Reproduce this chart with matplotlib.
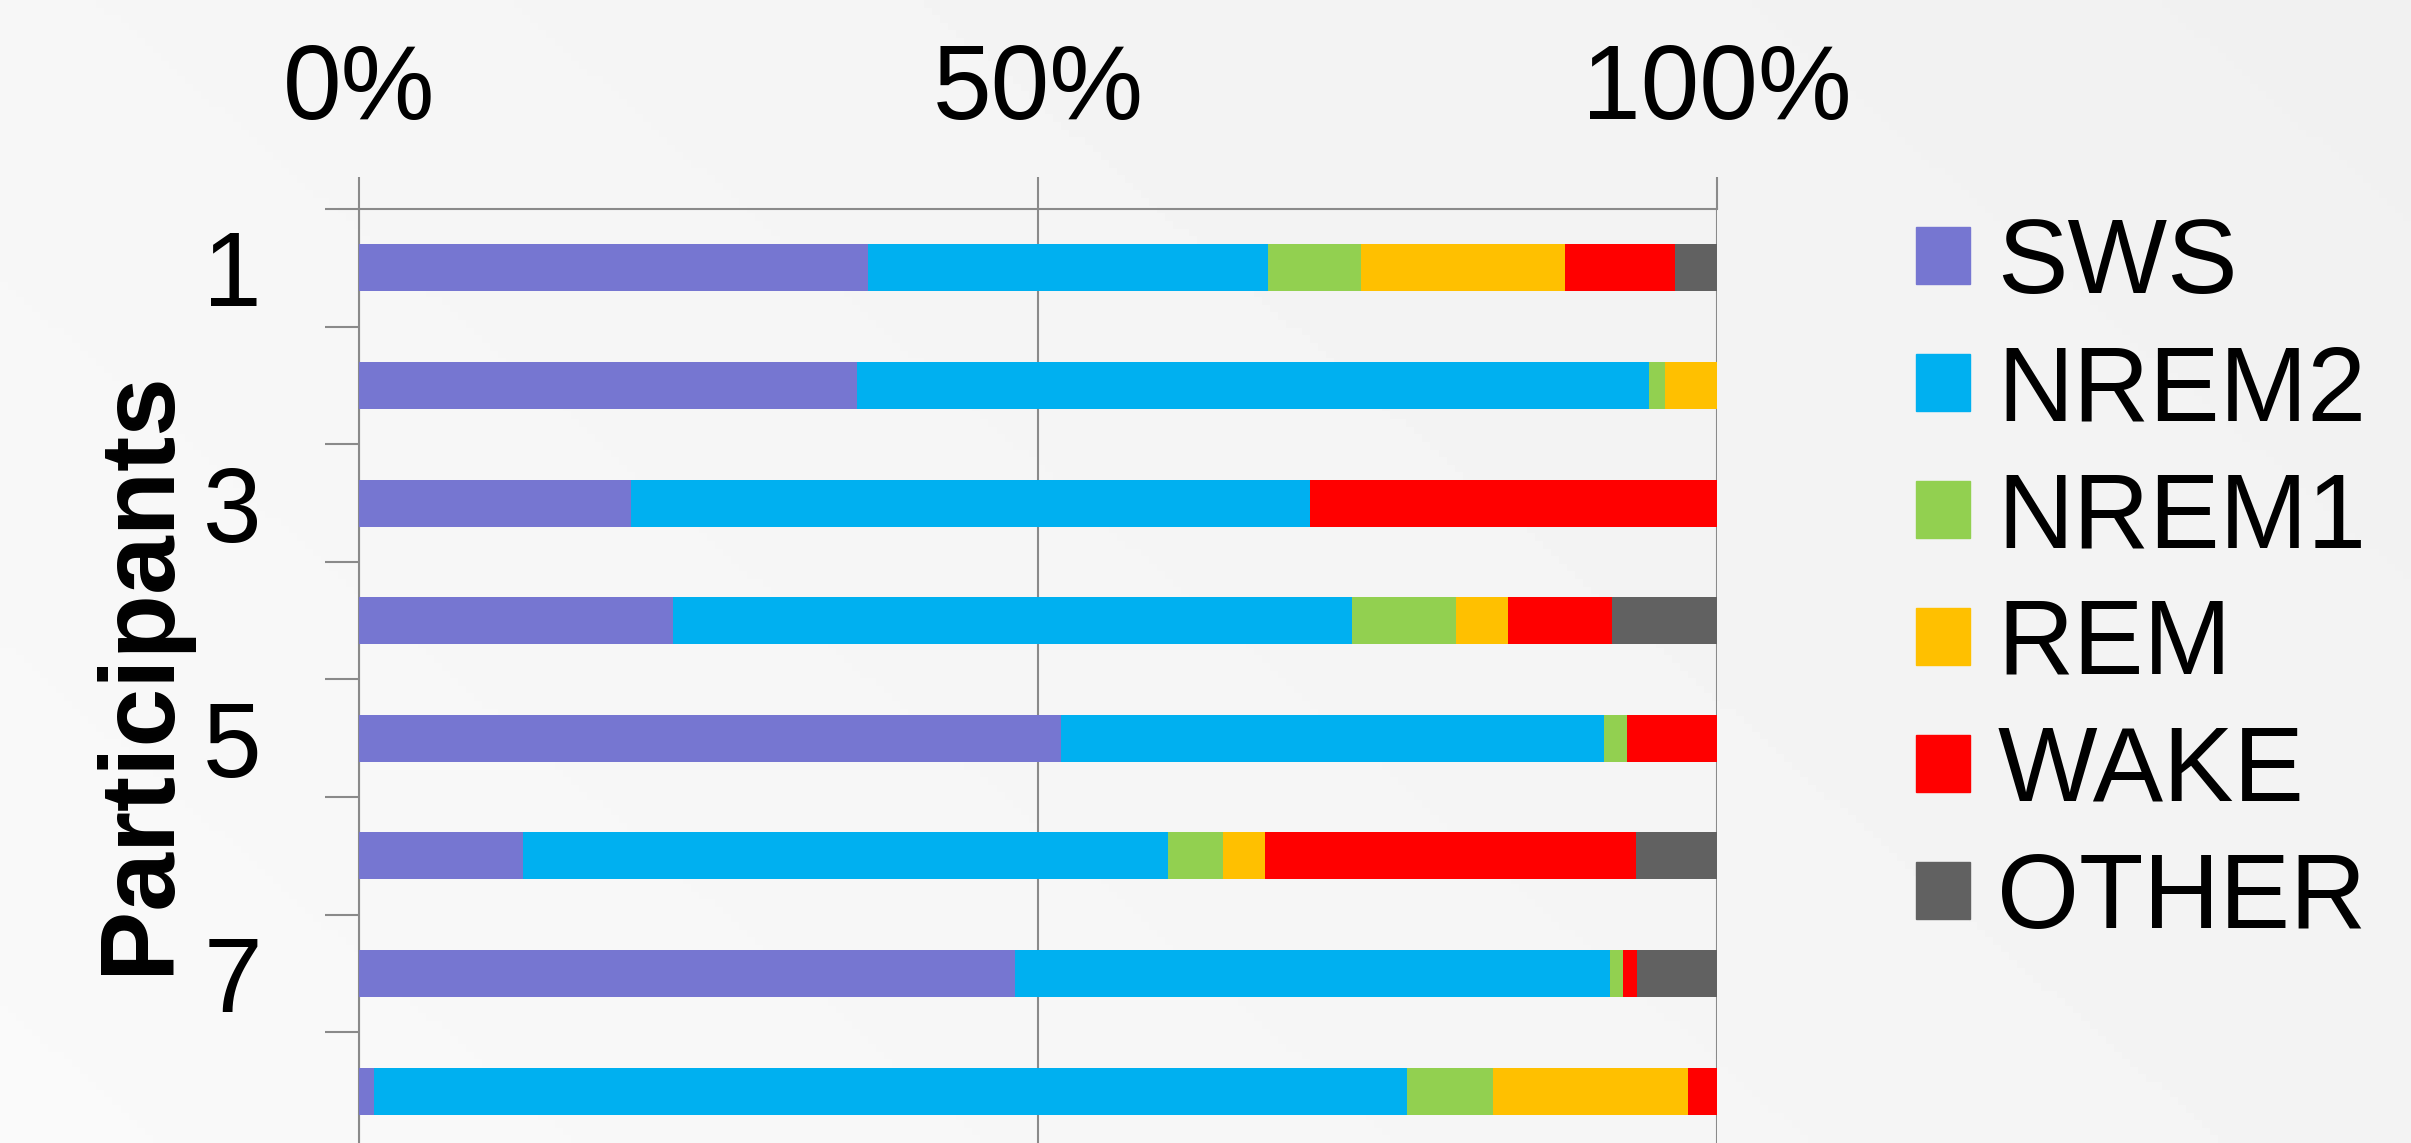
import matplotlib
matplotlib.use("Agg")
import matplotlib.pyplot as plt
from matplotlib.patches import Patch
import numpy as np

plt.rcParams['font.family'] = ['Liberation Sans', 'DejaVu Sans']

# percent of night spent in each stage, one entry per participant (1..8)
participants = ['1', '2', '3', '4', '5', '6', '7', '8']
stages = ['SWS', 'NREM2', 'NREM1', 'REM', 'WAKE', 'OTHER']
sws = [37.5, 36.7, 20.0, 23.1, 51.7, 12.1, 48.3, 1.1]
nrem2 = [29.4, 58.3, 50.0, 50.0, 40.0, 47.5, 43.8, 76.1]
nrem1 = [6.9, 1.2, 0.0, 7.7, 1.7, 4.0, 1.0, 6.3]
rem = [15.0, 3.8, 0.0, 3.8, 0.0, 3.1, 0.0, 14.4]
wake = [8.1, 0.0, 30.0, 7.7, 6.6, 27.3, 1.0, 2.1]
other = [3.1, 0.0, 0.0, 7.7, 0.0, 6.0, 5.9, 0.0]
colors = ['#7676D1', '#00B0F0', '#92D050', '#FFC000', '#FF0000', '#616161']

W, H = 2411, 1143
fig = plt.figure(figsize=(W / 100, H / 100), dpi=100)

# soft grey backdrop, lighter towards the bottom-left
bg = fig.add_axes([0, 0, 1, 1], zorder=-10)
gx, gy = np.meshgrid(np.linspace(0, 1, 300), np.linspace(0, 1, 150))
shade = 0.978 - 0.035 * (0.65 * gx + 0.35 * (1 - gy))
bg.imshow(shade, cmap='gray', vmin=0, vmax=1, aspect='auto', origin='upper',
          extent=[0, 1, 0, 1])
bg.axis('off')

ax = fig.add_axes([359 / W, 1 - 1150 / H, 1358 / W, 941 / H])
ax.set_facecolor('none')

y = np.arange(len(participants))
left = np.zeros(len(participants))
for name, vals, c in zip(stages, [sws, nrem2, nrem1, rem, wake, other], colors):
    ax.barh(y, vals, left=left, height=0.4, color=c, label=name, zorder=3)
    left += np.array(vals)

gray = '#8a8a8a'
ax.set_xlim(0, 100)
ax.set_ylim(len(participants) - 0.5, -0.5)

ax.xaxis.tick_top()
ax.set_xticks([0, 50, 100])
ax.set_xticklabels(['0%', '50%', '100%'])
ax.tick_params(axis='x', length=23, width=1.5, color=gray, labelsize=76, pad=26)
ax.grid(axis='x', color=gray, linewidth=1.5, zorder=1)

ax.set_yticks(np.arange(-0.5, len(participants), 1.0))
ax.set_yticklabels([])
ax.tick_params(axis='y', which='major', length=24.5, width=1.5, color=gray)
ax.set_yticks(y[::2], minor=True)
ax.set_yticklabels(participants[::2], minor=True)
ax.tick_params(axis='y', which='minor', length=0, labelsize=76, pad=70)

for s in ['right', 'bottom']:
    ax.spines[s].set_visible(False)
for s in ['top', 'left']:
    ax.spines[s].set_color(gray)
    ax.spines[s].set_linewidth(1.5)

fig.text(141 / W, 1 - 672 / H, 'Participants', rotation=90, ha='center',
         va='center', fontsize=76, fontweight='bold')

handles = [Patch(color=c) for c in colors]
fig.legend(handles, stages, loc='center left',
           bbox_to_anchor=(1916 / W, 1 - 583 / H), frameon=False,
           fontsize=76, handlelength=0.51, handleheight=0.45,
           handletextpad=0.26, labelspacing=0.265, borderpad=0,
           borderaxespad=0)

fig.savefig('out.png', dpi=100)
